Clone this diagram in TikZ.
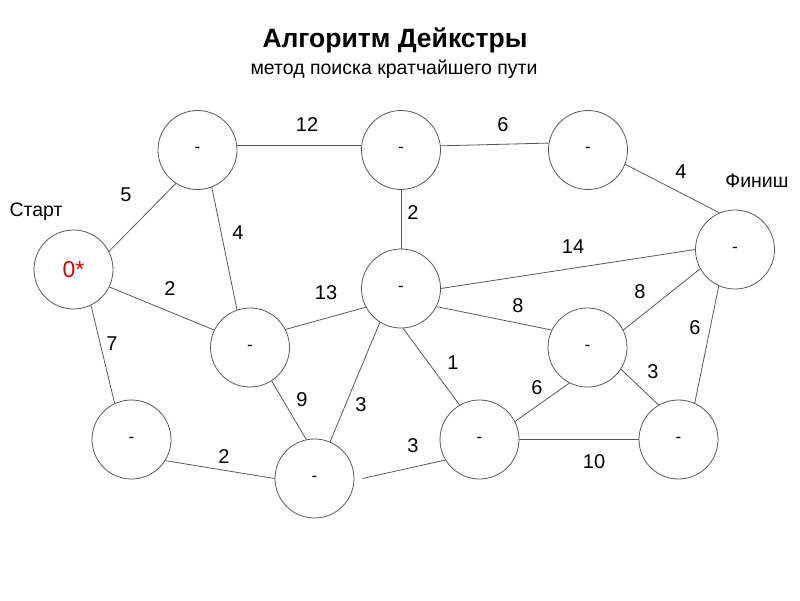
\documentclass[tikz,border=0pt]{standalone}
\usepackage{fontspec}
\setmainfont{Liberation Sans}
\begin{document}
\begin{tikzpicture}[x=1pt,y=-1pt,
  vert/.style={circle,draw=black!65,line width=0.8pt,minimum size=79pt,inner sep=0pt,font=\fontsize{17}{17}\selectfont},
  edge/.style={draw=black!65,line width=0.8pt},
  wlabel/.style={font=\fontsize{20}{20}\selectfont,inner sep=0pt},
  tag/.style={font=\fontsize{19.5}{19.5}\selectfont,inner sep=0pt}]
\useasboundingbox[fill=white] (0,0) rectangle (800,600);
\node[font=\bfseries\fontsize{26.5}{26.5}\selectfont,inner sep=0pt] (title) at (395,40) {Алгоритм Дейкстры};
\node[font=\fontsize{19.5}{19.5}\selectfont,inner sep=0pt] (sub) at (394,69) {метод поиска кратчайшего пути};
% vertices
\node[vert,text=red!85!black,font=\fontsize{23}{23}\selectfont] (s) at (73.5,269.5) {0*};
\node[vert] (tl) at (197.5,150) {-};
\node[vert] (tm) at (401,150) {-};
\node[vert] (tr) at (588,150) {-};
\node[vert] (f) at (735,249.5) {-};
\node[vert] (c) at (401,288.5) {-};
\node[vert] (lm) at (250,347.5) {-};
\node[vert] (rm) at (587.5,347.5) {-};
\node[vert] (bl) at (131.5,439.5) {-};
\node[vert] (bcl) at (314.5,478.5) {-};
\node[vert] (bcr) at (479.5,439.5) {-};
\node[vert] (br) at (678.5,439.5) {-};
% tags
\node[tag] (start) at (36,212) {Старт};
\node[tag] (fin) at (757,181) {Финиш};
% edges
\draw[edge] (s.27) -- (tl.-123);
\draw[edge] (tl.6) -- (tm.174);
\draw[edge] (tl.-69) -- (lm.109);
\draw[edge] (s.-26) -- (lm.154);
\draw[edge] (s.-64) -- (bl.115);
\draw[edge] (lm.27) -- (c.208);
\draw[edge] (tm.south) -- (c.north);
\draw[edge] (tm.6) -- (tr.170);
\draw[edge] (tr.-21) -- (f.113);
\draw[edge] (c.0) -- (f.180);
\draw[edge] (c.-27) -- (rm.154);
\draw[edge] (rm.26) -- (f.209);
\draw[edge] (f.-114) -- (br.66);
\draw[edge] (rm.-33) -- (br.120);
\draw[edge] (bcr.27) -- (rm.-117);
\draw[edge] (bcr.east) -- (br.west);
\draw[edge] (c.-87) -- (bcr.120);
\draw[edge] (c.-122) -- (bcl.67);
\draw[edge] (lm.-57) -- (bcl.102);
\draw[edge] (bl.-32) -- (bcl.180);
\draw[edge] ([xshift=8pt]bcl.east) -- (bcr.211);
% weights
\node[wlabel] (w1) at (126,195) {5};
\node[wlabel] (w2) at (307,125) {12};
\node[wlabel] (w3) at (238,233) {4};
\node[wlabel] (w4) at (170,289) {2};
\node[wlabel] (w5) at (326,293) {13};
\node[wlabel] (w6) at (112,344) {7};
\node[wlabel] (w7) at (302,400) {9};
\node[wlabel] (w8) at (361,405) {3};
\node[wlabel] (w9) at (224,457) {2};
\node[wlabel] (w10) at (413,446) {3};
\node[wlabel] (w11) at (453,363) {1};
\node[wlabel] (w12) at (537,388) {6};
\node[wlabel] (w13) at (594,462) {10};
\node[wlabel] (w14) at (653,372) {3};
\node[wlabel] (w15) at (695,328) {6};
\node[wlabel] (w16) at (503,125) {6};
\node[wlabel] (w17) at (681,172) {4};
\node[wlabel] (w18) at (413,213) {2};
\node[wlabel] (w19) at (573,247) {14};
\node[wlabel] (w20) at (518,306) {8};
\node[wlabel] (w21) at (640,292) {8};
\end{tikzpicture}
\end{document}
